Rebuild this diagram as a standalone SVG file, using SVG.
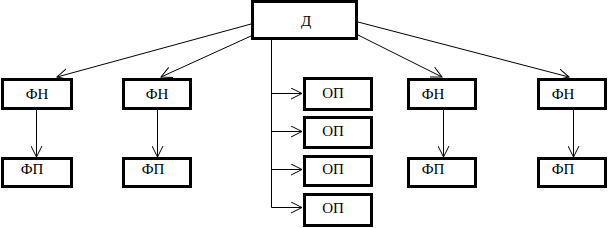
<svg xmlns="http://www.w3.org/2000/svg" width="609" height="228" viewBox="0 0 609 228">
<style>
.box{fill:#fff;stroke:#000;stroke-width:3}
.t{font-family:"Liberation Serif","Times New Roman",serif;font-size:15px;fill:#000;text-anchor:middle}
.c line,.c polyline{stroke:#000;stroke-width:1;fill:none;marker-end:url(#a)}
</style>
<defs>
<marker id="a" markerUnits="userSpaceOnUse" markerWidth="12" markerHeight="12" refX="11" refY="5.5" orient="auto" viewBox="0 0 12 11">
<path d="M0,0 L11,5.5 L0,11" fill="none" stroke="#000" stroke-width="1"/>
</marker>
</defs>
<g class="c" id="connectors">
<line x1="251" y1="24" x2="57" y2="77"/>
<line x1="251" y1="36" x2="161" y2="77"/>
<line x1="358" y1="35" x2="442" y2="77"/>
<line x1="358" y1="22" x2="569" y2="77"/>
<line x1="36.5" y1="110" x2="36.5" y2="157"/>
<line x1="157.5" y1="110" x2="157.5" y2="157"/>
<line x1="443.5" y1="110" x2="443.5" y2="157"/>
<line x1="573.5" y1="110" x2="573.5" y2="157"/>
<polyline points="271.5,40 271.5,93.5 302,93.5"/>
<line x1="271.5" y1="131.5" x2="302" y2="131.5"/>
<line x1="271.5" y1="169.5" x2="302" y2="169.5"/>
<polyline points="271.5,93 271.5,207.5 302,207.5"/>
</g>
<g id="D"><rect class="box" x="252.5" y="1.5" width="104" height="37"/><text class="t" x="306" y="26">Д</text></g>
<g id="FN1"><rect class="box" x="2.5" y="79.5" width="69" height="29"/><text class="t" x="37" y="99">ФН</text></g>
<g id="FN2"><rect class="box" x="123.5" y="79.5" width="67" height="29"/><text class="t" x="157" y="99">ФН</text></g>
<g id="FN3"><rect class="box" x="408.5" y="79.5" width="67" height="29"/><text class="t" x="433" y="99">ФН</text></g>
<g id="FN4"><rect class="box" x="538.5" y="79.5" width="67" height="29"/><text class="t" x="563" y="99">ФН</text></g>
<g id="FP1"><rect class="box" x="2.5" y="158.5" width="69" height="28"/><text class="t" x="32" y="174">ФП</text></g>
<g id="FP2"><rect class="box" x="123.5" y="158.5" width="67" height="28"/><text class="t" x="153" y="174">ФП</text></g>
<g id="FP3"><rect class="box" x="408.5" y="158.5" width="67" height="28"/><text class="t" x="433" y="174">ФП</text></g>
<g id="FP4"><rect class="box" x="538.5" y="158.5" width="67" height="28"/><text class="t" x="563" y="174">ФП</text></g>
<g id="OP1"><rect class="box" x="304.5" y="78.5" width="67" height="31"/><text class="t" x="333" y="98">ОП</text></g>
<g id="OP2"><rect class="box" x="304.5" y="117.5" width="67" height="30"/><text class="t" x="333" y="136">ОП</text></g>
<g id="OP3"><rect class="box" x="304.5" y="156.5" width="67" height="29"/><text class="t" x="333" y="174">ОП</text></g>
<g id="OP4"><rect class="box" x="304.5" y="194.5" width="67" height="31"/><text class="t" x="333" y="213">ОП</text></g>
</svg>
